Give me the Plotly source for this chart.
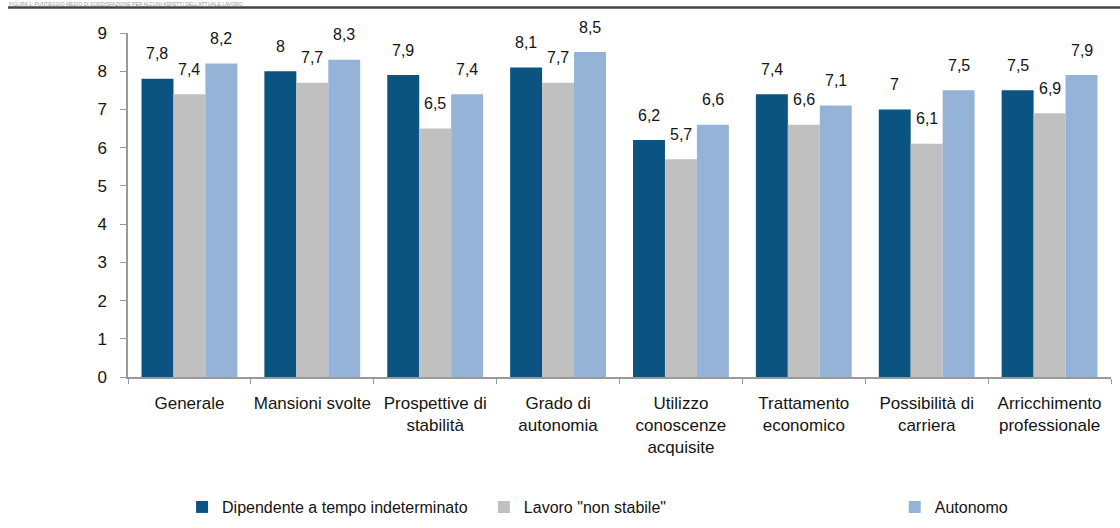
import plotly.graph_objects as go

categories = ["Generale", "Mansioni svolte", "Prospettive di<br>stabilità", "Grado di<br>autonomia",
              "Utilizzo<br>conoscenze<br>acquisite", "Trattamento<br>economico",
              "Possibilità di<br>carriera", "Arricchimento<br>professionale"]
dipendente = [7.8, 8.0, 7.9, 8.1, 6.2, 7.4, 7.0, 7.5]
non_stabile = [7.4, 7.7, 6.5, 7.7, 5.7, 6.6, 6.1, 6.9]
autonomo = [8.2, 8.3, 7.4, 8.5, 6.6, 7.1, 7.5, 7.9]
series_names = ["Dipendente a tempo indeterminato", 'Lavoro "non stabile"', "Autonomo"]
y_ticks = list(range(0, 10))
title_text = "FIGURA 1: PUNTEGGIO MEDIO DI SODDISFAZIONE PER ALCUNI ASPETTI DELL'ATTUALE LAVORO"

colors = ["#0b5380", "#c0c0c0", "#95b3d7"]
series = [dipendente, non_stabile, autonomo]
legend_ids = ["legend", "legend2", "legend3"]

NARROW = "Liberation Sans Narrow, Arial Narrow, Liberation Sans, Arial, sans-serif"
SANS = "Liberation Sans, Arial, sans-serif"
TXT = "#141414"
bargap = 0.22

fig = go.Figure()
for name, vals, col, lg in zip(series_names, series, colors, legend_ids):
    fig.add_trace(go.Bar(x=categories, y=vals, name=name, marker_color=col,
                         marker_line_width=0, legend=lg, showlegend=True))

w = (1 - bargap) / 3
annotations = []
for j, vals in enumerate(series):
    for i, v in enumerate(vals):
        annotations.append(dict(x=i + (j - 1) * w, y=v, xref="x", yref="y",
                                text=f"{v:g}".replace(".", ","), showarrow=False,
                                yanchor="middle", yshift=25,
                                font=dict(family=SANS, size=16, color=TXT)))

annotations.append(dict(x=-0.122, y=1.0959, xref="paper", yref="paper", xanchor="left",
                        yanchor="top", showarrow=False, text=title_text, borderpad=0,
                        font=dict(family=SANS, size=5, color="#999999")))

leg_common = dict(orientation="h", yanchor="middle", y=-0.378, xanchor="left",
                  font=dict(family=NARROW, size=16, color=TXT), bgcolor="rgba(0,0,0,0)")

fig.update_layout(
    width=1120, height=528,
    margin=dict(l=128, r=9, t=33, b=151, autoexpand=False),
    paper_bgcolor="white", plot_bgcolor="white",
    barmode="group", bargap=bargap, bargroupgap=0,
    annotations=annotations,
    legend=dict(x=0.055, **leg_common),
    legend2=dict(x=0.362, **leg_common),
    legend3=dict(x=0.78, **leg_common),
    shapes=[dict(type="line", xref="paper", yref="paper", x0=-0.122, x1=1.01,
                 y0=1.074, y1=1.074, line=dict(color="#444444", width=2.5))],
    xaxis=dict(showline=True, linecolor="#999999", linewidth=1.5, tickangle=0,
               automargin=False,
               ticks="outside", tickson="boundaries", ticklen=5, tickcolor="#999999",
               tickfont=dict(family=NARROW, size=17, color=TXT), showgrid=False,
               ticklabelstandoff=10),
    yaxis=dict(range=[0, 9], tickvals=y_ticks, showline=True, linecolor="#999999",
               linewidth=1.5, ticks="outside", ticklen=6, tickcolor="#999999",
               automargin=False,
               tickfont=dict(family=SANS, size=17, color=TXT), showgrid=False,
               zeroline=False, ticklabelstandoff=10),
)

fig.write_html("out.html", post_script="document.body.style.margin='0';",
               config={"displayModeBar": False})
